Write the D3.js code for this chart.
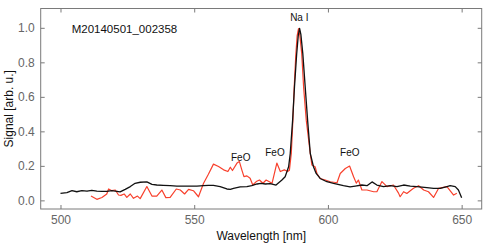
<!DOCTYPE html>
<html>
<head>
<meta charset="utf-8">
<script src="https://cdn.jsdelivr.net/npm/d3@7"></script>
<style>
  body { margin: 0; background: #fff; }
  svg { display: block; font-family: "Liberation Sans", Arial, Helvetica, sans-serif; }
</style>
</head>
<body>
<svg id="chart" width="491" height="245"></svg>
<script>
// wavelengths [nm] and signal
const blackWl = [500, 502.4, 504.3, 506.1, 508, 509.9, 511.7, 513.6, 515.5, 517.3, 519.2, 521.1, 522.3, 524.2, 526.1, 527.9, 529.8, 532.3, 534.2, 536, 538.5, 541, 543.5, 546, 548.5, 551, 553.5, 555.3, 557.2, 559.7, 562.2, 563.5, 564.7, 567.2, 569.7, 571.5, 573.5, 575, 576.6, 578.4, 580.6, 582.8, 584, 585.3, 585.9, 586.8, 587.5, 588.3, 588.9, 589.4, 589.9, 590.6, 591.5, 592.4, 593.4, 594.6, 595.6, 597.1, 599.6, 602.1, 605.8, 608.3, 610.2, 612.7, 614.6, 616.5, 618.3, 620.8, 623.3, 625.8, 628.3, 630.8, 633.3, 637, 639.5, 642, 644.5, 645.7, 647.6, 648.8, 650];
const blackSig = [0.041, 0.045, 0.056, 0.050, 0.056, 0.054, 0.058, 0.054, 0.052, 0.052, 0.056, 0.052, 0.049, 0.064, 0.080, 0.099, 0.105, 0.107, 0.093, 0.089, 0.087, 0.085, 0.083, 0.082, 0.083, 0.083, 0.085, 0.087, 0.087, 0.080, 0.066, 0.064, 0.070, 0.078, 0.080, 0.085, 0.095, 0.098, 0.095, 0.097, 0.089, 0.118, 0.137, 0.195, 0.27, 0.465, 0.658, 0.845, 0.955, 0.997, 0.96, 0.852, 0.658, 0.465, 0.272, 0.195, 0.156, 0.127, 0.108, 0.098, 0.085, 0.078, 0.083, 0.089, 0.085, 0.107, 0.089, 0.080, 0.085, 0.080, 0.089, 0.083, 0.080, 0.074, 0.070, 0.070, 0.080, 0.085, 0.080, 0.060, 0.015];

const redWl = [511.4, 513.6, 515.5, 517.3, 518, 519.2, 520.5, 521.7, 522.6, 523.8, 524.8, 526.1, 527.3, 528.8, 529.8, 532.3, 534.2, 536, 537.9, 539.4, 541, 543.3, 544.8, 546.4, 547.9, 549.7, 551.6, 553.5, 555.3, 557.2, 559.1, 561, 562.6, 563.5, 564.3, 566, 566.9, 567.8, 568.6, 569.7, 570.9, 571.9, 573.2, 574.4, 575.7, 576.9, 579.1, 580.9, 582.2, 583.7, 584.9, 585.6, 586.3, 586.9, 587.4, 588.0, 588.5, 589.0, 589.5, 590.2, 590.9, 591.9, 593.4, 594.0, 595.2, 595.9, 597.1, 599, 600.9, 603.4, 604.6, 606.5, 608.1, 609.6, 610.6, 611.4, 612.7, 614.6, 617.1, 618.3, 620.2, 622.1, 624.5, 626.4, 627, 628.3, 629.5, 630.8, 632, 633.9, 635.8, 637.6, 639.5, 641.4, 644.5, 647, 648.2];
const redSig = [0.025, 0.006, 0.017, 0.037, 0.066, 0.056, 0.060, 0.031, 0.029, 0.037, 0.017, 0.037, 0.012, 0.025, 0.010, 0.080, 0.025, 0.025, 0.060, 0.016, 0.017, 0.066, 0.060, 0.037, 0.064, 0.056, 0.021, 0.099, 0.151, 0.210, 0.196, 0.177, 0.167, 0.192, 0.173, 0.216, 0.225, 0.177, 0.138, 0.142, 0.128, 0.089, 0.109, 0.118, 0.099, 0.118, 0.099, 0.216, 0.167, 0.177, 0.167, 0.175, 0.272, 0.465, 0.658, 0.845, 0.955, 0.995, 0.955, 0.852, 0.658, 0.465, 0.272, 0.205, 0.195, 0.156, 0.127, 0.118, 0.108, 0.102, 0.156, 0.185, 0.199, 0.137, 0.100, 0.118, 0.060, 0.060, 0.050, 0.050, 0.109, 0.080, 0.089, 0.042, 0.021, 0.050, 0.040, 0.056, 0.070, 0.085, 0.060, 0.050, 0.017, 0.070, 0.080, 0.031, 0.041];

const xTicks = [500, 550, 600, 650];
const yTicks = [0.0, 0.2, 0.4, 0.6, 0.8, 1.0];

const peakLabels = ["FeO", "FeO", "Na I", "FeO"];
const peakLabelWl = [567.4, 580.2, 589.3, 608.2];
const peakLabelSig = [0.226, 0.26, 1.037, 0.26];

const title = "M20140501_002358";

const margin = { top: 8.5, right: 9.3, bottom: 36, left: 40.7 };
const width = 491 - margin.left - margin.right;
const height = 245 - margin.top - margin.bottom;

const svg = d3.select("#chart")
    .append("g")
    .attr("transform", `translate(${margin.left},${margin.top})`);

const x = d3.scaleLinear().domain([492.6, 657.5]).range([0, width]);
const y = d3.scaleLinear().domain([-0.05, 1.112]).range([height, 0]);

const axisColor = "#7a7a7a";

function styleAxis(g) {
    g.select(".domain").remove();
    g.selectAll(".tick line").attr("stroke", axisColor);
    g.selectAll(".tick text").attr("fill", "#666").style("font-size", "12px");
}

svg.append("g")
    .attr("transform", `translate(0,${height})`)
    .call(d3.axisBottom(x).tickValues(xTicks).tickSize(-4).tickPadding(6).tickFormat(d3.format("d")))
    .call(styleAxis);

svg.append("g")
    .call(d3.axisTop(x).tickValues(xTicks).tickSize(-4).tickFormat(""))
    .call(styleAxis);

svg.append("g")
    .call(d3.axisLeft(y).tickValues(yTicks).tickSize(-4).tickPadding(6).tickFormat(d3.format(".1f")))
    .call(styleAxis);

svg.append("g")
    .attr("transform", `translate(${width},0)`)
    .call(d3.axisRight(y).tickValues(yTicks).tickSize(-4).tickFormat(""))
    .call(styleAxis);

svg.append("rect")
    .attr("width", width)
    .attr("height", height)
    .attr("fill", "none")
    .attr("stroke", axisColor)
    .attr("stroke-width", 1);

const line = d3.line()
    .x(d => x(d[0]))
    .y(d => y(d[1]));

svg.append("path")
    .datum(d3.zip(redWl, redSig))
    .attr("fill", "none")
    .attr("stroke", "#f8402c")
    .attr("stroke-width", 1.2)
    .attr("stroke-linejoin", "round")
    .attr("d", line);

svg.append("path")
    .datum(d3.zip(blackWl, blackSig))
    .attr("fill", "none")
    .attr("stroke", "#111")
    .attr("stroke-width", 1.3)
    .attr("stroke-linejoin", "round")
    .attr("d", line);

svg.selectAll(".peak-label")
    .data(d3.range(peakLabels.length))
    .enter()
    .append("text")
    .attr("class", "peak-label")
    .attr("x", i => x(peakLabelWl[i]))
    .attr("y", i => y(peakLabelSig[i]))
    .attr("text-anchor", "middle")
    .attr("fill", "#111")
    .style("font-size", "10px")
    .text(i => peakLabels[i]);

svg.append("text")
    .attr("x", 31)
    .attr("y", 24.5)
    .attr("fill", "#111")
    .style("font-size", "11.5px")
    .text(title);

svg.append("text")
    .attr("x", width / 2)
    .attr("y", height + 30.5)
    .attr("text-anchor", "middle")
    .attr("fill", "#111")
    .style("font-size", "12px")
    .text("Wavelength [nm]");

svg.append("text")
    .attr("transform", "rotate(-90)")
    .attr("x", -height / 2)
    .attr("y", -28)
    .attr("text-anchor", "middle")
    .attr("fill", "#111")
    .style("font-size", "12px")
    .text("Signal [arb. u.]");
</script>
</body>
</html>
